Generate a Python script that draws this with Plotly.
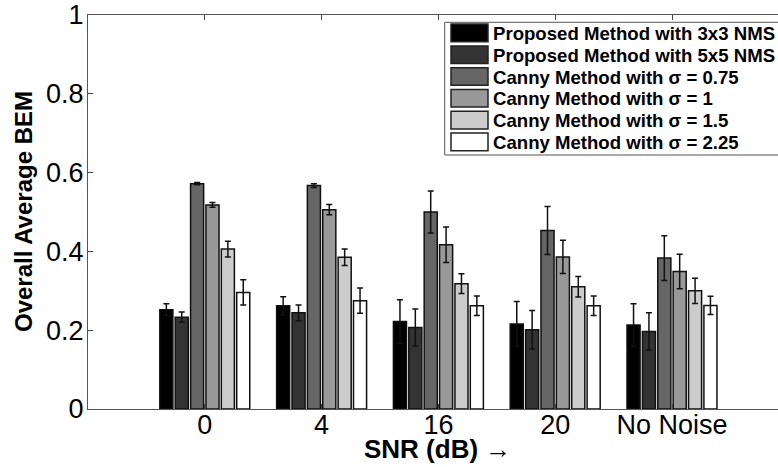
import plotly.graph_objects as go

# ---- data ----
categories = ["0", "4", "16", "20", "No Noise"]
series_names = [
    "Proposed Method with 3x3 NMS",
    "Proposed Method with 5x5 NMS",
    "Canny Method with σ = 0.75",
    "Canny Method with σ = 1",
    "Canny Method with σ = 1.5",
    "Canny Method with σ = 2.25",
]
prop_3x3 = [0.252, 0.262, 0.222, 0.216, 0.213]
prop_5x5 = [0.233, 0.244, 0.207, 0.201, 0.197]
canny_075 = [0.572, 0.567, 0.500, 0.453, 0.383]
canny_1 = [0.518, 0.506, 0.417, 0.386, 0.349]
canny_15 = [0.406, 0.385, 0.318, 0.310, 0.300]
canny_225 = [0.296, 0.275, 0.262, 0.262, 0.263]

err_3x3 = [0.015, 0.023, 0.055, 0.057, 0.054]
err_5x5 = [0.013, 0.020, 0.047, 0.049, 0.047]
err_075 = [0.003, 0.005, 0.053, 0.061, 0.057]
err_1 = [0.006, 0.013, 0.045, 0.042, 0.044]
err_15 = [0.020, 0.021, 0.025, 0.026, 0.032]
err_225 = [0.032, 0.032, 0.025, 0.025, 0.023]

values = [prop_3x3, prop_5x5, canny_075, canny_1, canny_15, canny_225]
errors = [err_3x3, err_5x5, err_075, err_1, err_15, err_225]
colors = ["#000000", "#333333", "#666666", "#999999", "#cccccc", "#ffffff"]

x_pos = list(range(1, len(categories) + 1))

fig = go.Figure()
for name, vals, errs, col in zip(series_names, values, errors, colors):
    fig.add_trace(go.Bar(
        x=x_pos, y=vals, name=name,
        marker=dict(color=col, line=dict(color="#111111", width=1.5)),
        error_y=dict(type="data", array=errs, color="#111111", thickness=1.5, width=3),
        showlegend=False,
    ))

W, H = 778, 467
L, R, T, B = 88, 778, 15, 409


def px(x):
    return (x - L) / (R - L)


def py(y):
    return (B - y) / (B - T)


FONT = "Liberation Sans, Arial, sans-serif"

shapes = []
annotations = []
# legend box
shapes.append(dict(type="rect", xref="paper", yref="paper",
                   x0=px(444.7), x1=px(820), y0=py(155), y1=py(22.3),
                   line=dict(color="#555555", width=1), fillcolor="white", layer="above"))
for i, (name, col) in enumerate(zip(series_names, colors)):
    cy = 32.9 + 21.8 * i
    shapes.append(dict(type="rect", xref="paper", yref="paper",
                       x0=px(451), x1=px(488), y0=py(cy + 8.8), y1=py(cy - 8.8),
                       line=dict(color="#222222", width=1.5), fillcolor=col, layer="above"))
    annotations.append(dict(xref="paper", yref="paper", x=px(490.5), y=py(cy + 0.5),
                            xanchor="left", yanchor="middle", showarrow=False,
                            text="<b>" + name + "</b>",
                            font=dict(family=FONT, size=18.6, color="black")))

# axis titles
annotations.append(dict(xref="paper", yref="paper", x=px(437), y=py(448.5),
                        xanchor="center", yanchor="middle", showarrow=False,
                        text="<b>SNR (dB) →</b>",
                        font=dict(family=FONT, size=26, color="black")))
annotations.append(dict(xref="paper", yref="paper", x=px(23), y=py(212),
                        xanchor="center", yanchor="middle", showarrow=False,
                        textangle=-90,
                        text="<b>Overall Average BEM</b>",
                        font=dict(family=FONT, size=24, color="black")))

fig.update_layout(
    width=W, height=H,
    margin=dict(l=L, r=W - R, t=T, b=H - B, pad=0),
    paper_bgcolor="white", plot_bgcolor="white",
    barmode="group", bargap=0.21, bargroupgap=0.15,
    font=dict(family=FONT, size=27, color="black"),
    shapes=shapes, annotations=annotations,
    xaxis=dict(
        range=[0, (R - L) / 116.8], tickvals=x_pos, ticktext=categories,
        ticks="inside", ticklen=5, tickcolor="#444444",
        showline=True, linecolor="#555555", linewidth=1, mirror="ticks",
        showgrid=False, zeroline=False, ticklabelstandoff=-8,
        tickfont=dict(family=FONT, size=27, color="black"),
    ),
    yaxis=dict(
        range=[0, 1], dtick=0.2, tick0=0,
        ticks="inside", ticklen=5, tickcolor="#444444",
        showline=True, linecolor="#555555", linewidth=1, mirror=False,
        showgrid=False, zeroline=False, ticklabelstandoff=-2,
        tickfont=dict(family=FONT, size=27, color="black"),
    ),
)

fig.write_html("out.html", config={"displayModeBar": False},
               post_script="document.body.style.margin='0';")
